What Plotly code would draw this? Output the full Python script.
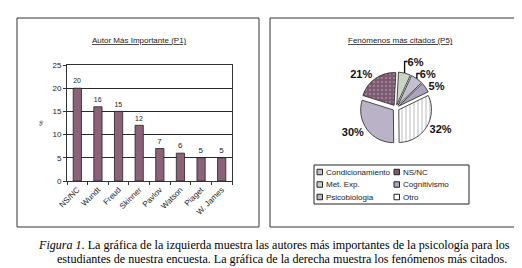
import plotly.graph_objects as go

# ---- data ----
authors = ["NS/NC", "Wundt", "Freud", "Skinner", "Pavlov", "Watson", "Piaget", "W. James"]
author_counts = [20, 16, 15, 12, 7, 6, 5, 5]
y_ticks = [0, 5, 10, 15, 20, 25]

pie_labels = ["Condicionamiento", "NS/NC", "Met. Exp.", "Cognitivismo", "Psicobiologia", "Otro"]
pie_values = [6, 21, 6, 5, 30, 32]
pie_slice_order = ["Met. Exp.", "Condicionamiento", "Cognitivismo", "Otro", "Psicobiologia", "NS/NC"]

bar_title = "Autor Más Importante (P1)"
pie_title = "Fenómenos más citados (P5)"
caption_1 = "<i>Figura 1.</i> La gráfica de la izquierda muestra las autores más importantes de la psicología para los"
caption_2 = "estudiantes de nuestra encuesta. La gráfica de la derecha muestra los fenómenos más citados."

# ---- styles ----
W, H = 522, 268
SANS = "Liberation Sans, Arial, sans-serif"
SERIF = "Liberation Serif, Times New Roman, serif"
pie_colors = {
    "Condicionamiento": "#c3bfd0",
    "NS/NC": "#7e5a72",
    "Met. Exp.": "#cad4c3",
    "Cognitivismo": "#aba3bd",
    "Psicobiologia": "#bab3c7",
    "Otro": "#ffffff",
}
pie_patterns = {"NS/NC": ".", "Otro": "|"}
pie_pattern_fg = {"NS/NC": "#a58ea0", "Otro": "#a8a8a8"}

def px(x):
    return x / W

def py(y):
    return 1 - y / H

fig = go.Figure()

fig.add_trace(go.Bar(
    x=authors, y=author_counts, text=author_counts, textposition="outside",
    textfont=dict(size=8, color="#222", family=SANS),
    marker=dict(color="#8c6279", line=dict(color="#222", width=0.8)),
    width=0.4, cliponaxis=False, showlegend=False,
))

ordered_vals = [pie_values[pie_labels.index(l)] for l in pie_slice_order]
fig.add_trace(go.Pie(
    labels=pie_slice_order, values=ordered_vals, sort=False, direction="clockwise",
    rotation=3, pull=0.1, showlegend=False,
    texttemplate="<b>%{percent:.0%}</b>", textposition="outside",
    textfont=dict(size=11, color="#111", family=SANS),
    marker=dict(
        colors=[pie_colors[l] for l in pie_slice_order],
        line=dict(color="#222", width=0.8),
        pattern=dict(
            shape=[pie_patterns.get(l, "") for l in pie_slice_order],
            fgcolor=[pie_pattern_fg.get(l, "#000") for l in pie_slice_order],
            bgcolor=[pie_colors[l] for l in pie_slice_order],
            size=4, solidity=0.2,
        ),
    ),
    domain=dict(x=[px(352), px(424)], y=[py(136), py(64)]),
    hoverinfo="skip",
))

# legend (two columns, row-wise, as in the reference)
leg_x0, leg_x1, leg_y0, leg_y1 = 306, 461, 157, 196
col_x = [309, 386]
row_y = [164, 176.5, 189]
sw = 5.5
shapes = [
    dict(type="rect", xref="paper", yref="paper", x0=px(9), x1=px(251), y0=py(219), y1=py(10),
         line=dict(color="#333", width=1)),
    dict(type="rect", xref="paper", yref="paper", x0=px(262), x1=px(515), y0=py(219), y1=py(10),
         line=dict(color="#333", width=1)),
    dict(type="rect", xref="paper", yref="paper", x0=px(leg_x0), x1=px(leg_x1), y0=py(leg_y1), y1=py(leg_y0),
         line=dict(color="#222", width=1), fillcolor="white"),
]
annotations = [
    dict(text="<u>" + bar_title + "</u>", x=px(131), y=py(33), xref="paper", yref="paper",
         xanchor="center", yanchor="middle", showarrow=False, font=dict(size=8, family=SANS)),
    dict(text="<u>" + pie_title + "</u>", x=px(392), y=py(33), xref="paper", yref="paper",
         xanchor="center", yanchor="middle", showarrow=False, font=dict(size=8, family=SANS)),
    dict(text=caption_1, x=px(28), y=py(237), xref="paper", yref="paper", xanchor="left",
         yanchor="middle", showarrow=False, font=dict(size=12.1, family=SERIF, color="#000")),
    dict(text=caption_2, x=px(47), y=py(251), xref="paper", yref="paper", xanchor="left",
         yanchor="middle", showarrow=False, font=dict(size=12.1, family=SERIF, color="#000")),
]
for i, lab in enumerate(pie_labels):
    cx = col_x[i % 2]
    cy = row_y[i // 2]
    shapes.append(dict(type="rect", xref="paper", yref="paper",
                       x0=px(cx), x1=px(cx + sw), y0=py(cy + sw / 2), y1=py(cy - sw / 2),
                       line=dict(color="#222", width=1), fillcolor=pie_colors[lab]))
    annotations.append(dict(text=lab, x=px(cx + sw + 1), y=py(cy), xref="paper", yref="paper",
                            xanchor="left", yanchor="middle", showarrow=False,
                            font=dict(size=8, family=SANS, color="#222")))

fig.update_layout(
    width=W, height=H, margin=dict(l=0, r=0, t=0, b=0, autoexpand=False),
    paper_bgcolor="white", plot_bgcolor="white", showlegend=False,
    font=dict(family=SANS, size=8, color="#222"),
    xaxis=dict(domain=[px(59), px(224)], showline=True, linecolor="#333", mirror=True,
               ticks="outside", tickson="boundaries", ticklen=3, tickcolor="#333",
               tickangle=-45, tickfont=dict(size=8), showgrid=False),
    yaxis=dict(domain=[py(173), py(57)], range=[0, 25], tickvals=y_ticks, showline=True,
               linecolor="#333", mirror=True, ticks="outside", ticklen=3, tickcolor="#333",
               showgrid=True, gridcolor="#2a2a2a", gridwidth=1, zeroline=False,
               tickfont=dict(size=8), title=dict(text="%", font=dict(size=6), standoff=8)),
    shapes=shapes,
    annotations=annotations,
)

fig.write_html("out.html")
